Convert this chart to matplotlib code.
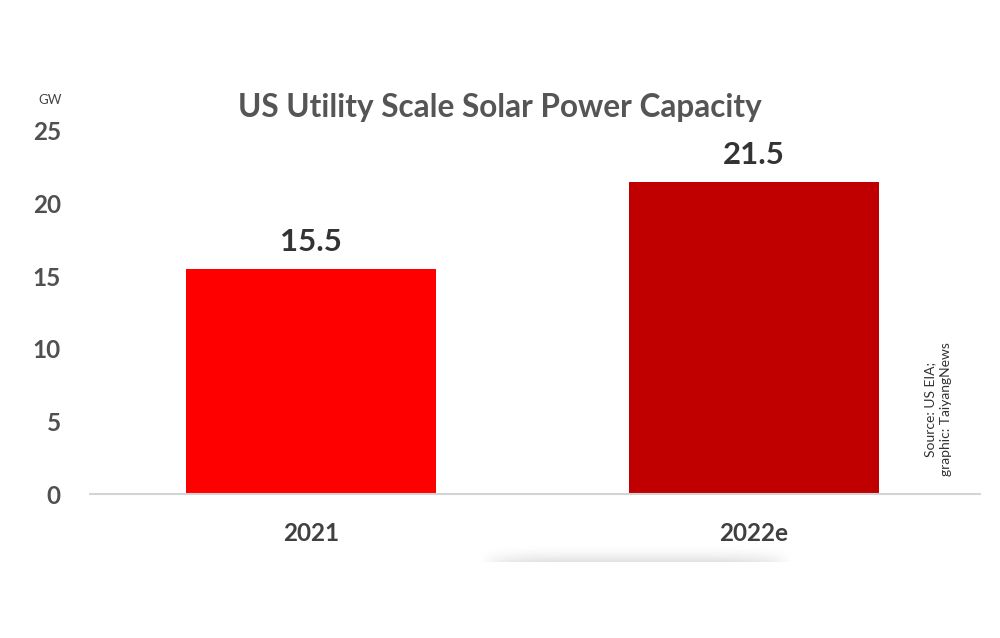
import matplotlib
matplotlib.use("Agg")
import matplotlib.pyplot as plt
import numpy as np

categories = ["2021", "2022e"]
values = [15.5, 21.5]
bar_colors = ["#ff0000", "#c00000"]
yticks = [0, 5, 10, 15, 20, 25]

plt.rcParams['font.family'] = ['Lato', 'DejaVu Sans']

fig = plt.figure(figsize=(10, 6.38), dpi=100)
ax = fig.add_axes([0.09, 144/638, 0.89, 363/638])

x = np.arange(len(categories))
bars = ax.bar(x, values, width=0.565, color=bar_colors, zorder=2)
ax.set_xlim(-0.499, 1.51)
ax.set_ylim(0, 25)

for s in ["top", "right", "left"]:
    ax.spines[s].set_visible(False)
ax.spines["bottom"].set_color("#d4d4d4")
ax.spines["bottom"].set_linewidth(1.5)

ax.set_yticks(yticks)
ax.set_yticklabels([str(t) for t in yticks], fontsize=17.5, fontweight="bold", color="#505050")
ax.set_xticks(x)
ax.set_xticklabels(categories, fontsize=17.5, fontweight="bold", color="#404040")
ax.tick_params(axis="y", length=0, pad=21)
ax.tick_params(axis="x", length=0, pad=20)

for xi, v in zip(x, values):
    ax.annotate(f"{v}", (xi, v), xytext=(0, 9), textcoords="offset points",
                ha="center", va="bottom", fontsize=22.5, fontweight="bold", color="#333333")

fig.text(0.5, 1 - 108/638, "US Utility Scale Solar Power Capacity", ha="center", va="center",
         fontsize=22.7, fontweight="bold", color="#555555")
fig.text(0.05, 1 - 100/638, "GW", ha="center", va="center", fontsize=9.5, color="#444444")
fig.text(0.938, 1 - 409/638, "Source: US EIA;\ngraphic: TaiyangNews", ha="center", va="center",
         rotation=90, fontsize=10, color="#333333", linespacing=1.35)

# faint shadow below the chart
sax = fig.add_axes([480/1000, 1 - 562/638, 313/1000, 20/638])
sax.axis("off")
h, w = 40, 300
yy = np.linspace(0, 1, h)[:, None]
xx = np.linspace(-1, 1, w)[None, :]
alpha = (yy ** 2) * np.clip(1 - np.abs(xx) ** 6, 0, 1) * 0.12
img = np.zeros((h, w, 4))
img[..., 3] = alpha
sax.imshow(img, aspect="auto", extent=[0, 1, 0, 1], origin="upper")

fig.savefig("out.png", dpi=100, facecolor="white")
